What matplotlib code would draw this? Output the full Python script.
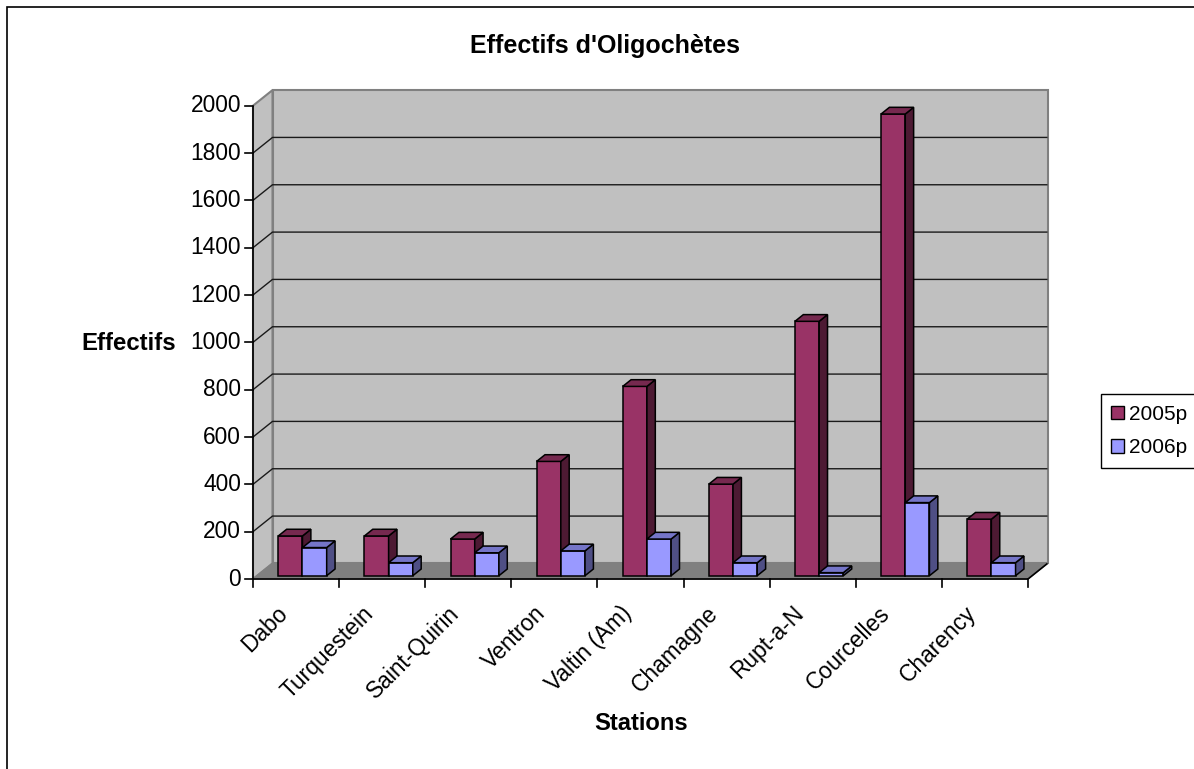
import numpy as np
import matplotlib.pyplot as plt
from matplotlib.patches import Polygon, Patch, Rectangle
from matplotlib.transforms import IdentityTransform

plt.rcParams['font.family'] = ['Liberation Sans', 'DejaVu Sans']

stations = ['Dabo', 'Turquestein', 'Saint-Quirin', 'Ventron', 'Valtin (Am)',
            'Chamagne', 'Rupt-a-N', 'Courcelles', 'Charency']
eff_2005 = [168, 168, 155, 483, 800, 387, 1075, 1951, 239]
eff_2006 = [119, 55, 97, 105, 155, 55, 13, 309, 55]
series = ['2005p', '2006p']
yticks = np.arange(0, 2001, 200)

# front, top and side colours for each series
front_cols = ['#993366', '#9999ff']
top_cols = ['#76294f', '#7575c8']
side_cols = ['#4d1a33', '#4f4f85']

W, H = 1194, 769
fig = plt.figure(figsize=(W / 100, H / 100), dpi=100)

# front plane of the box (pixels)
x0, x1 = 253, 1028
yb, yt = 579, 105.7
ax = fig.add_axes([x0 / W, 1 - yb / H, (x1 - x0) / W, (yb - yt) / H])
ax.set_xlim(0, len(stations))
ax.set_ylim(0, 2000)
ax.axis('off')

DX, DY = 19.5, 15.6          # full depth of the box in pixels
D0, D1 = 0.21, 0.64          # depth occupied by the bars
BW = 0.281                   # bar width in category units
OFF = 0.027
ID = IdentityTransform()
nx = len(stations)


def proj(x, y, d):
    px, py = ax.transData.transform((x, y))
    return (px + d * DX, py + d * DY)


def face(pts, fc, ec='black', lw=1.1, z=3):
    ax.add_patch(Polygon([proj(*p) for p in pts], closed=True, transform=ID,
                         fc=fc, ec=ec, lw=lw, zorder=z, clip_on=False,
                         joinstyle='miter'))


def line(pts, color='black', lw=1.0, z=2):
    xy = np.array([proj(*p) for p in pts])
    ax.plot(xy[:, 0], xy[:, 1], color=color, lw=lw, zorder=z,
            transform=ID, clip_on=False, solid_capstyle='butt')


# walls and floor
ymax = yticks[-1]
face([(0, 0, 1), (nx, 0, 1), (nx, ymax, 1), (0, ymax, 1)], '#c0c0c0', '#808080', 1.5, 0.5)
face([(0, 0, 0), (0, 0, 1), (0, ymax, 1), (0, ymax, 0)], '#c0c0c0', '#808080', 1.5, 0.5)
for v in yticks[1:-1]:
    line([(0, v, 0), (0, v, 1), (nx, v, 1)], '#1a1a1a', 1.0, 0.7)
face([(0, 0, 0), (nx, 0, 0), (nx, 0, 1), (0, 0, 1)], '#808080', '#808080', 1.0, 0.8)
line([(nx, 0, 0), (nx, 0, 1)], 'black', 1.2, 0.9)

# axes lines and ticks
line([(0, 0, 0), (0, ymax, 0)], 'black', 1.2, 2.5)
line([(0, 0, 0), (nx, 0, 0)], 'black', 1.2, 2.5)
for v in yticks:
    px, py = proj(0, v, 0)
    ax.plot([px - 8, px], [py, py], color='black', lw=1.2, transform=ID, clip_on=False)
    ax.text(px - 12, py, f'{v}', ha='right', va='center', fontsize=16.4,
            transform=ID)
for i in range(nx + 1):
    px, py = proj(i, 0, 0)
    ax.plot([px, px], [py, py - 8], color='black', lw=1.2, transform=ID, clip_on=False)
for i, name in enumerate(stations):
    px, py = proj(i + 0.5, 0, 0)
    ax.text(px - 12, py - 31, name, rotation=45, rotation_mode='anchor',
            ha='right', va='center', fontsize=16.4, transform=ID)

# bars
for i in range(nx):
    for j, vals in enumerate([eff_2005, eff_2006]):
        v = vals[i]
        xl = i + 0.5 + OFF - BW + j * BW
        xr = xl + BW
        face([(xl, 0, D0), (xr, 0, D0), (xr, v, D0), (xl, v, D0)], front_cols[j], z=3 + i)
        face([(xr, 0, D0), (xr, 0, D1), (xr, v, D1), (xr, v, D0)], side_cols[j], z=3 + i)
        face([(xl, v, D0), (xr, v, D0), (xr, v, D1), (xl, v, D1)], top_cols[j], z=3 + i)

# titles
fig.text(605 / W, 1 - 46 / H, "Effectifs d'Oligochètes", ha='center', va='center',
         fontsize=18, fontweight='bold')
fig.text(129 / W, 1 - 343 / H, 'Effectifs', ha='center', va='center',
         fontsize=17.3, fontweight='bold')
fig.text(641 / W, 1 - 724 / H, 'Stations', ha='center', va='center',
         fontsize=17.1, fontweight='bold')

# legend
handles = [Patch(fc=front_cols[k], ec='black', lw=1.0) for k in range(2)]
fig.legend(handles, series, loc='center left', bbox_to_anchor=(1101 / W, 1 - 431 / H),
           frameon=True, fancybox=False, edgecolor='black', framealpha=1,
           fontsize=15, handlelength=0.6, handleheight=0.6, handletextpad=0.25,
           borderpad=0.5, labelspacing=0.7, borderaxespad=0)

# outer border
fig.add_artist(Rectangle((7 / W, -0.1), 1.2, 1.1 - 7 / H, transform=fig.transFigure,
                         fill=False, ec='black', lw=1.2))

fig.savefig('out.png', dpi=100)
